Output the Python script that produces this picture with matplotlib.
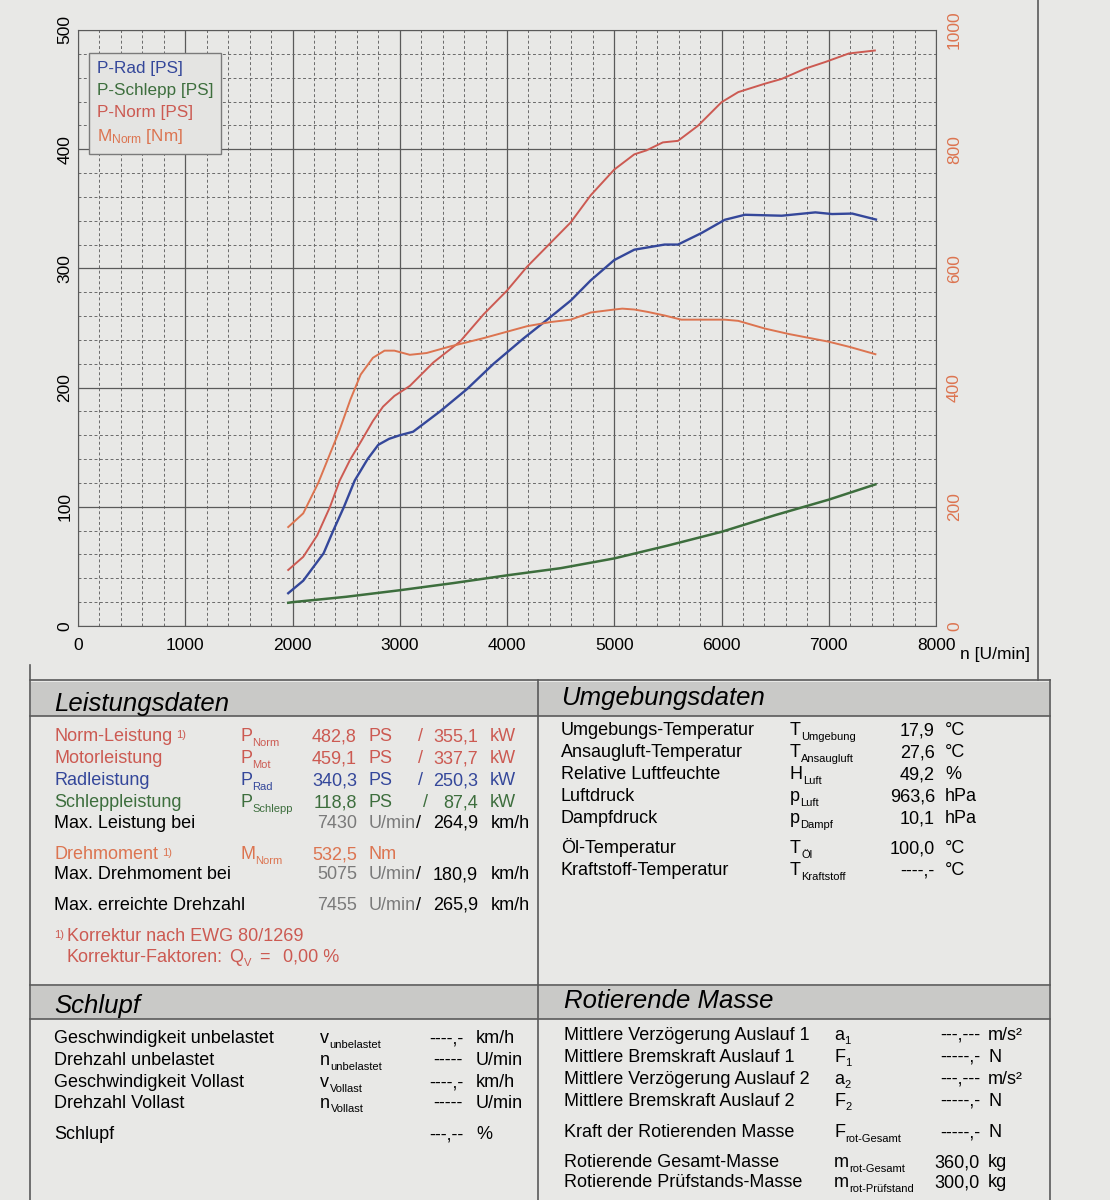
import matplotlib.pyplot as plt
from matplotlib.patches import Rectangle
from matplotlib.lines import Line2D

plt.rcParams['font.family'] = ['Liberation Sans', 'DejaVu Sans']
plt.rcParams['mathtext.fontset'] = 'custom'
plt.rcParams['mathtext.rm'] = 'Liberation Sans'

# ---- curve data ----
rpm_rad = [1960, 2100, 2290, 2380, 2480, 2580, 2700, 2800, 2900, 3000, 3125, 3375, 3625,
           3875, 4156, 4375, 4594, 4781, 5000, 5187, 5469, 5594, 5812, 6031, 6219, 6562,
           6875, 7031, 7219, 7440]
p_rad = [27.5, 38, 61, 80, 100, 122, 140, 152, 157, 160, 163, 180, 198.6,
         220, 241.4, 257, 273, 290, 307, 315.7, 320, 320, 329.6, 340.8, 345, 344.2,
         347, 345.6, 346, 341]

rpm_schlepp = [1960, 2000, 2500, 3000, 3500, 4000, 4500, 5000, 5500, 6000, 6500, 7000, 7435]
p_schlepp = [19.5, 20, 24.5, 30, 36, 42.5, 48.5, 56.7, 67.5, 79, 93, 106, 118.8]

rpm_norm = [1960, 2100, 2230, 2350, 2440, 2540, 2640, 2750, 2844, 2950, 3094, 3312, 3562,
            3781, 4000, 4187, 4406, 4594, 4781, 5000, 5187, 5300, 5453, 5594, 5781, 6000,
            6156, 6406, 6562, 6781, 6969, 7187, 7430]
p_norm = [47, 58, 76, 100, 122, 140, 155, 172, 184, 193, 201.4, 221, 238.6,
          261.4, 281.4, 301.4, 321.4, 338.6, 361.4, 382.9, 395.7, 399, 405.7, 407, 419.7, 439.4,
          447.9, 455, 459, 467.6, 473.2, 480.3, 482.8]

rpm_m = [1960, 2100, 2240, 2433, 2540, 2636, 2750, 2858, 2950, 3094, 3250, 3469, 3781,
         4187, 4406, 4594, 4781, 5000, 5075, 5187, 5312, 5469, 5625, 6031, 6156, 6406,
         6625, 7000, 7200, 7435]
m_norm = [166, 189, 240, 326, 380, 422, 450, 462, 462, 455, 458, 469, 483,
          503, 510, 514, 526, 531, 532.5, 531, 527, 521, 514, 514, 512, 499,
          490, 477, 468, 456]

legend_labels = ['P-Rad [PS]', 'P-Schlepp [PS]', 'P-Norm [PS]', r'$\mathregular{M_{Norm}}$ [Nm]']

# ---- table data ----
leistung_labels = ['Norm-Leistung', 'Motorleistung', 'Radleistung', 'Schleppleistung']
leistung_subs = ['Norm', 'Mot', 'Rad', 'Schlepp']
leistung_ps = ['482,8', '459,1', '340,3', '118,8']
leistung_kw = ['355,1', '337,7', '250,3', '87,4']

drehzahl_labels = ['Max. Leistung bei', 'Max. Drehmoment bei', 'Max. erreichte Drehzahl']
drehzahl_rpm = ['7430', '5075', '7455']
drehzahl_kmh = ['264,9', '180,9', '265,9']

drehmoment_value = '532,5'
korrektur_text = 'Korrektur nach EWG 80/1269'
korrektur_faktor = '0,00 %'

umgebung_labels = ['Umgebungs-Temperatur', 'Ansaugluft-Temperatur', 'Relative Luftfeuchte',
                   'Luftdruck', 'Dampfdruck', 'Öl-Temperatur', 'Kraftstoff-Temperatur']
umgebung_syms = [('T', 'Umgebung'), ('T', 'Ansaugluft'), ('H', 'Luft'), ('p', 'Luft'),
                 ('p', 'Dampf'), ('T', 'Öl'), ('T', 'Kraftstoff')]
umgebung_vals = ['17,9', '27,6', '49,2', '963,6', '10,1', '100,0', '----,-']
umgebung_units = ['°C', '°C', '%', 'hPa', 'hPa', '°C', '°C']

schlupf_labels = ['Geschwindigkeit unbelastet', 'Drehzahl unbelastet',
                  'Geschwindigkeit Vollast', 'Drehzahl Vollast', 'Schlupf']
schlupf_syms = [('v', 'unbelastet'), ('n', 'unbelastet'), ('v', 'Vollast'), ('n', 'Vollast'), None]
schlupf_vals = ['----,-', '-----', '----,-', '-----', '---,--']
schlupf_units = ['km/h', 'U/min', 'km/h', 'U/min', '%']

masse_labels = ['Mittlere Verzögerung Auslauf 1', 'Mittlere Bremskraft Auslauf 1',
                'Mittlere Verzögerung Auslauf 2', 'Mittlere Bremskraft Auslauf 2',
                'Kraft der Rotierenden Masse', 'Rotierende Gesamt-Masse',
                'Rotierende Prüfstands-Masse']
masse_syms = [('a', '1'), ('F', '1'), ('a', '2'), ('F', '2'), ('F', 'rot-Gesamt'),
              ('m', 'rot-Gesamt'), ('m', 'rot-Prüfstand')]
masse_vals = ['---,---', '-----,-', '---,---', '-----,-', '-----,-', '360,0', '300,0']
masse_units = ['m/s²', 'N', 'm/s²', 'N', 'N', 'kg', 'kg']

# ---- styling ----
PAPER = '#e8e8e6'
BAND = '#c9c9c7'
BLUE = '#34479a'
GREEN = '#3d6e3d'
RED = '#cc5a52'
ORANGE = '#dc7450'
GREYTXT = '#7a7a7a'
LINE = '#5a5a5a'

W, H = 1110, 1200
fig = plt.figure(figsize=(W / 100, H / 100), dpi=100)
fig.patch.set_facecolor(PAPER)


def fx(x):
    return x / W


def fy(y):
    return 1 - y / H


ax = fig.add_axes([fx(78), fy(626), fx(936) - fx(78), fy(30) - fy(626)])
ax.set_facecolor(PAPER)
ax.set_xlim(0, 8000)
ax.set_ylim(0, 500)
ax.set_xticks(range(0, 8001, 1000))
ax.set_xticks(range(0, 8001, 200), minor=True)
ax.set_yticks(range(0, 501, 100))
ax.set_yticks(range(0, 501, 20), minor=True)
ax.grid(which='major', color=LINE, lw=0.9)
ax.grid(which='minor', color='#6a6a6a', lw=0.7, ls=(0, (3, 2.5)))
ax.set_axisbelow(True)
ax.tick_params(which='both', length=0)
ax.tick_params(axis='x', labelsize=12.5, pad=9)
ax.tick_params(axis='y', labelsize=12.5, pad=4)
for lab in ax.get_yticklabels():
    lab.set_rotation(90)
    lab.set_va('center')
for sp in ax.spines.values():
    sp.set_color(LINE)

ax2 = ax.twinx()
ax2.set_ylim(0, 1000)
ax2.set_yticks(range(0, 1001, 200))
ax2.tick_params(length=0, labelsize=12.5, labelcolor=ORANGE, pad=8)
for lab in ax2.get_yticklabels():
    lab.set_rotation(90)
    lab.set_va('center')
for sp in ax2.spines.values():
    sp.set_visible(False)

l_rad, = ax.plot(rpm_rad, p_rad, color=BLUE, lw=1.7)
l_sch, = ax.plot(rpm_schlepp, p_schlepp, color=GREEN, lw=1.8)
l_norm, = ax.plot(rpm_norm, p_norm, color=RED, lw=1.4)
l_m, = ax2.plot(rpm_m, m_norm, color=ORANGE, lw=1.4)

leg = ax2.legend([l_rad, l_sch, l_norm, l_m], legend_labels, loc='upper left',
                 bbox_to_anchor=(0.013, 0.961), borderaxespad=0, handlelength=0,
                 handletextpad=0, labelcolor='linecolor', fontsize=12.3,
                 labelspacing=0.42, borderpad=0.45, fancybox=False, framealpha=1)
leg.get_frame().set_facecolor('#e4e4e2')
leg.get_frame().set_edgecolor('#7a7a7a')
leg.get_frame().set_linewidth(1.0)
for h in leg.legend_handles:
    h.set_visible(False)

fig.text(fx(960), fy(655), 'n [U/min]', fontsize=12.5, va='center', ha='left')

# ---- frame lines and header bands ----
def hline(y, x0, x1):
    fig.add_artist(Line2D([fx(x0), fx(x1)], [fy(y), fy(y)], color=LINE, lw=1.2))


def vline(x, y0, y1):
    fig.add_artist(Line2D([fx(x), fx(x)], [fy(y0), fy(y1)], color=LINE, lw=1.2))


for (y0, y1) in [(682, 716), (986, 1019)]:
    fig.add_artist(Rectangle((fx(31), fy(y1)), fx(1049) - fx(31), fy(y0) - fy(y1),
                             facecolor=BAND, edgecolor='none'))
hline(680, 30, 1050)
hline(716, 30, 1050)
hline(985, 30, 1050)
hline(1019, 30, 1050)
vline(30, 665, 1200)
vline(538, 680, 1200)
vline(1050, 680, 1200)
vline(1038, 0, 680)

renderer = fig.canvas.get_renderer()


def put(x, y, s, size=13, color='black', ha='left', **kw):
    return fig.text(fx(x), fy(y), s, fontsize=size, color=color, ha=ha, va='baseline', **kw)


def sym(x, y, base, sub, color='black', size=13):
    t = put(x, y, base, size, color)
    w = t.get_window_extent(renderer).width
    put(x + w + 0.5, y + 4.5, sub, size * 0.62, color)


# ---- Leistungsdaten ----
put(54, 711, 'Leistungsdaten', size=18.5, style='italic')
lcols = [RED, RED, BLUE, GREEN]
for i, ybase in enumerate([741, 763, 785, 807]):
    c = lcols[i]
    put(54, ybase, leistung_labels[i], color=c)
    sym(240, ybase, 'P', leistung_subs[i], c)
    put(357, ybase, leistung_ps[i], color=c, ha='right')
    put(368, ybase, 'PS', color=c)
    put(418 if i < 3 else 423, ybase, '/', color=c)
    put(478, ybase, leistung_kw[i], color=c, ha='right')
    put(490, ybase, 'kW', color=c)
put(176, 738, '1)', size=8, color=RED)

put(54, 859, 'Drehmoment', color=ORANGE)
put(162, 856, '1)', size=8, color=ORANGE)
sym(240, 859, 'M', 'Norm', ORANGE)
put(357, 859, drehmoment_value, color=ORANGE, ha='right')
put(369, 859, 'Nm', color=ORANGE)

for i, ybase in enumerate([828, 879, 910]):
    put(54, ybase, drehzahl_labels[i])
    put(357, ybase, drehzahl_rpm[i], color=GREYTXT, ha='right')
    put(369, ybase, 'U/min', color=GREYTXT)
    put(416, ybase, '/')
    put(478, ybase, drehzahl_kmh[i], ha='right')
    put(491, ybase, 'km/h')

put(54, 938, '1)', size=8, color=RED)
put(67, 941, korrektur_text, color=RED)
kf = put(67, 962, 'Korrektur-Faktoren:', color=RED)
kf_end = 67 + kf.get_window_extent(renderer).width
sym(kf_end + 6, 962, 'Q', 'V', RED)
put(kf_end + 36, 962, '=', color=RED)
put(max(278, kf_end + 60), 962, korrektur_faktor, color=RED)

# ---- Umgebungsdaten ----
put(561, 705, 'Umgebungsdaten', size=18.5, style='italic')
for i, ybase in enumerate([735, 757, 779, 801, 823, 853, 875]):
    put(561, ybase, umgebung_labels[i])
    sym(790, ybase, umgebung_syms[i][0], umgebung_syms[i][1])
    put(935, ybase, umgebung_vals[i], ha='right')
    put(945, ybase, umgebung_units[i])

# ---- Schlupf ----
put(54, 1013, 'Schlupf', size=18.5, style='italic')
for i, ybase in enumerate([1043, 1065, 1087, 1108, 1139]):
    put(54, ybase, schlupf_labels[i])
    if schlupf_syms[i] is not None:
        sym(320, ybase, schlupf_syms[i][0], schlupf_syms[i][1])
    put(463, ybase, schlupf_vals[i], ha='right')
    put(476, ybase, schlupf_units[i])

# ---- Rotierende Masse ----
put(564, 1008, 'Rotierende Masse', size=18.5, style='italic')
for i, ybase in enumerate([1040, 1062, 1084, 1106, 1137, 1167, 1187]):
    put(564, ybase, masse_labels[i])
    sym(834, ybase, masse_syms[i][0], masse_syms[i][1])
    put(980, ybase, masse_vals[i], ha='right')
    put(988, ybase, masse_units[i])

fig.savefig('out.png', dpi=100, facecolor=fig.get_facecolor())
